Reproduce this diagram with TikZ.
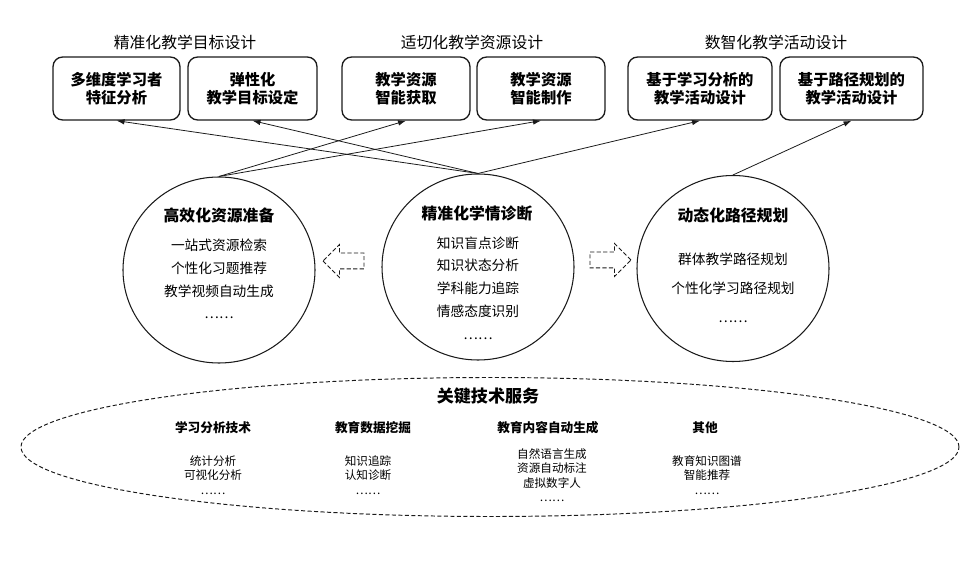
\documentclass[tikz,border=0pt]{standalone}
\usepackage{fontspec}
\setmainfont{Noto Sans CJK SC}
\usepackage{tikz}
\usetikzlibrary{arrows.meta,positioning,shapes.geometric,shapes.arrows}
\definecolor{kgLine}{HTML}{1A1A1A}
\tikzset{
  arr/.style={-{Latex[length=1.6mm,width=1.1mm]}, line width=0.45pt, draw=kgLine},
  grouptitle/.style={inner sep=0pt, font=\fontsize{9}{11}\selectfont},
  designbox/.style={rounded corners=5.5pt, draw=kgLine, line width=0.75pt, align=center, minimum width=25.6mm, minimum height=12.6mm, inner sep=2pt, font=\fontsize{8.7}{10.4}\selectfont\bfseries},
  ring/.style={ellipse, draw=kgLine, line width=0.6pt, minimum width=38.4mm, minimum height=37.2mm, inner sep=0pt},
  ringtitle/.style={inner sep=0pt, font=\fontsize{9}{11}\selectfont\bfseries},
  ringlist/.style={align=center, inner sep=0pt, font=\fontsize{7.8}{13}\selectfont},
  hollowarr/.style={single arrow, draw=kgLine, dash pattern=on 2.4pt off 1.3pt, line width=0.5pt, minimum height=8.2mm, inner xsep=0pt, inner ysep=1.5mm, single arrow head extend=1.7mm},
  techring/.style={ellipse, draw=kgLine, dash pattern=on 2.3pt off 1.4pt, line width=0.55pt, minimum width=187.6mm, minimum height=27.8mm, inner sep=0pt},
  techtitle/.style={inner sep=0pt, font=\fontsize{9.7}{12}\selectfont\bfseries},
  techhead/.style={inner sep=0pt, font=\fontsize{7.2}{9}\selectfont\bfseries},
  techlist/.style={align=center, inner sep=0pt, font=\fontsize{6.6}{8.2}\selectfont}
}

\begin{document}
\begin{tikzpicture}[x=0.2mm,y=-0.2mm]
  \useasboundingbox (0,0) rectangle (975,574);
  \node[grouptitle] (goalT) at (185,42) {精准化教学目标设计};
  \node[grouptitle] (resT) at (472,42) {适切化教学资源设计};
  \node[grouptitle] (actT) at (776,42) {数智化教学活动设计};
  \node[designbox, minimum width=25.4mm] (goalA) at (116.5,88.5) {多维度学习者\\特征分析};
  \node[designbox, minimum width=25.8mm] (goalB) at (252.5,88.5) {弹性化\\教学目标设定};
  \node[designbox] (resA) at (406,88.5) {教学资源\\智能获取};
  \node[designbox] (resB) at (541,88.5) {教学资源\\智能制作};
  \node[designbox, minimum width=28.8mm] (actA) at (700,88.5) {基于学习分析的\\教学活动设计};
  \node[designbox, minimum width=28.6mm] (actB) at (851.5,88.5) {基于路径规划的\\教学活动设计};
  \node[ring] (prep) at (219,270) {};
  \node[ring] (diag) at (478,267) {};
  \node[ring] (path) at (733,268.5) {};
  \node[ringtitle] (prepT) at (219,215) {高效化资源准备};
  \node[ringlist] (prepL) at (219,279) {一站式资源检索\\个性化习题推荐\\教学视频自动生成\\……};
  \node[ringtitle] (diagT) at (477,214) {精准化学情诊断};
  \node[ringlist] (diagL) at (478,288) {知识盲点诊断\\知识状态分析\\学科能力追踪\\情感态度识别\\……};
  \node[ringtitle] (pathT) at (733,215) {动态化路径规划};
  \node[ringlist, font=\fontsize{7.8}{16.6}\selectfont] (pathL) at (733,288) {群体教学路径规划\\个性化学习路径规划\\……};
  \node[hollowarr, shape border rotate=180] (toPrep) at (347.5,261) {};
  \node[hollowarr] (toPath) at (606.5,260) {};
  \foreach \t in {resA,resB}{\draw[arr] (prep.north) -- (\t.south);}
  \foreach \t in {goalA,goalB,actA}{\draw[arr] (diag.north) -- (\t.south);}
  \draw[arr] (path.north) -- (actB.south);
  \node[techring] (tech) at (490,447) {};
  \node[techtitle] (techT) at (488,396) {关键技术服务};
  \node[techhead] (laH) at (213,428) {学习分析技术};
  \node[techhead] (dmH) at (373,428) {教育数据挖掘};
  \node[techhead] (cgH) at (548,428) {教育内容自动生成};
  \node[techhead] (otH) at (705,428) {其他};
  \node[techlist] (laL) at (213,475) {统计分析\\可视化分析\\……};
  \node[techlist] (dmL) at (368,475) {知识追踪\\认知诊断\\……};
  \node[techlist] (cgL) at (552,475) {自然语言生成\\资源自动标注\\虚拟数字人\\……};
  \node[techlist] (otL) at (707,475) {教育知识图谱\\智能推荐\\……};
\end{tikzpicture}
\end{document}
